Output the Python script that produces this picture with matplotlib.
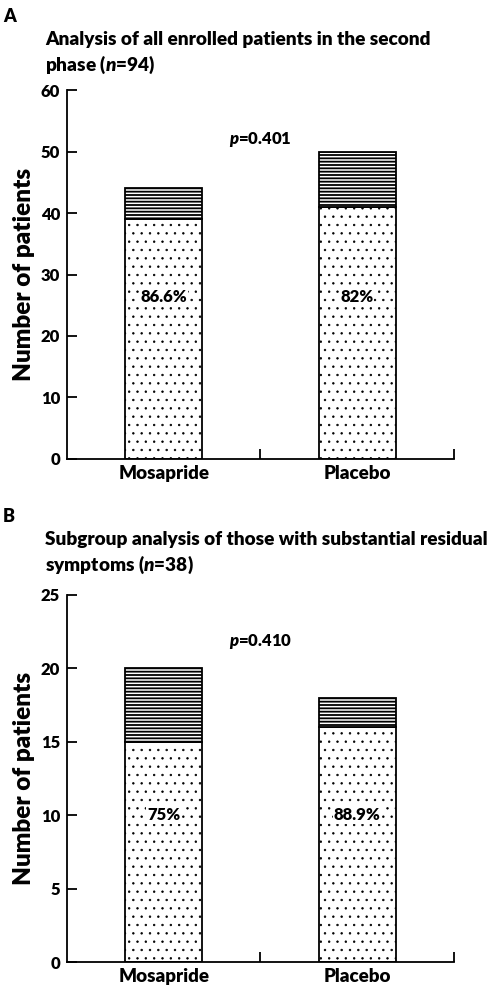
import matplotlib
matplotlib.use("Agg")
import matplotlib.pyplot as plt

plt.rcParams['font.family'] = ['Lato', 'DejaVu Sans']
plt.rcParams['font.weight'] = 'heavy'
plt.rcParams['mathtext.fontset'] = 'custom'
plt.rcParams['mathtext.rm'] = 'Lato:heavy'
plt.rcParams['mathtext.it'] = 'Lato:italic:heavy'

groups = ['Mosapride', 'Placebo']

# panel A
a_improved = [39, 41]
a_total = [44, 50]
a_pct = ['86.6%', '82%']
a_p = 0.401

# panel B
b_improved = [15, 16]
b_total = [20, 18]
b_pct = ['75%', '88.9%']
b_p = 0.410


def panel(ax, improved, total, pct, pval, ymax, ystep, p_y, pct_y):
    x = [0.5, 1.5]
    rest = [t - i for t, i in zip(total, improved)]
    plt.rcParams['hatch.linewidth'] = 0.5
    ax.bar(x, improved, width=0.4, color='white', edgecolor='black',
           hatch='..', linewidth=1.3)
    plt.rcParams['hatch.linewidth'] = 1.3
    ax.bar(x, rest, bottom=improved, width=0.4, color='white',
           edgecolor='black', hatch='-----', linewidth=1.3)
    for xi, s in zip(x, pct):
        ax.text(xi, pct_y, s, ha='center', va='center', fontsize=12,
                fontweight='heavy',
                bbox=dict(facecolor='white', edgecolor='none', pad=0.5))
    ax.text(1.0, p_y, '$p$=%.3f' % pval, ha='center', va='center',
            fontsize=12)
    ax.set_xlim(0, 2)
    ax.set_ylim(0, ymax)
    ax.set_yticks(range(0, ymax + 1, ystep))
    ax.set_xticks([1, 2])
    ax.set_xticklabels([])
    ax.set_xticks(x, minor=True)
    ax.set_xticklabels(groups, minor=True, fontsize=13.5, fontweight='heavy')
    ax.tick_params(axis='x', which='major', direction='in', length=7, width=1.3)
    ax.tick_params(axis='x', which='minor', length=0, pad=4)
    ax.tick_params(axis='y', direction='in', length=7, width=1.3,
                   labelsize=12, pad=5)
    for lab in ax.get_yticklabels():
        lab.set_fontweight('heavy')
    ax.spines['top'].set_visible(False)
    ax.spines['right'].set_visible(False)
    ax.spines['left'].set_linewidth(1.3)
    ax.spines['bottom'].set_linewidth(1.3)
    ax.set_ylabel('Number of patients', fontsize=17.5, fontweight='heavy',
                  labelpad=4)


fig = plt.figure(figsize=(4.91, 9.86), dpi=100)
ax1 = fig.add_axes([0.1365, 0.5345, 0.788, 0.3742])
ax2 = fig.add_axes([0.1365, 0.0243, 0.788, 0.3723])

panel(ax1, a_improved, a_total, a_pct, a_p, 60, 10, 52, 26.3)
panel(ax2, b_improved, b_total, b_pct, b_p, 25, 5, 21.8, 10)

fig.text(0.006, 0.992, 'A', fontsize=13, va='top')
fig.text(0.092, 0.969, 'Analysis of all enrolled patients in the second',
         fontsize=13.7, va='top')
fig.text(0.092, 0.946, 'phase ($n$=94)', fontsize=13.7, va='top')
fig.text(0.006, 0.485, 'B', fontsize=13, va='top')
fig.text(0.092, 0.461, 'Subgroup analysis of those with substantial residual',
         fontsize=13.7, va='top')
fig.text(0.092, 0.438, 'symptoms ($n$=38)', fontsize=13.7, va='top')

fig.savefig('out.png', dpi=100)
